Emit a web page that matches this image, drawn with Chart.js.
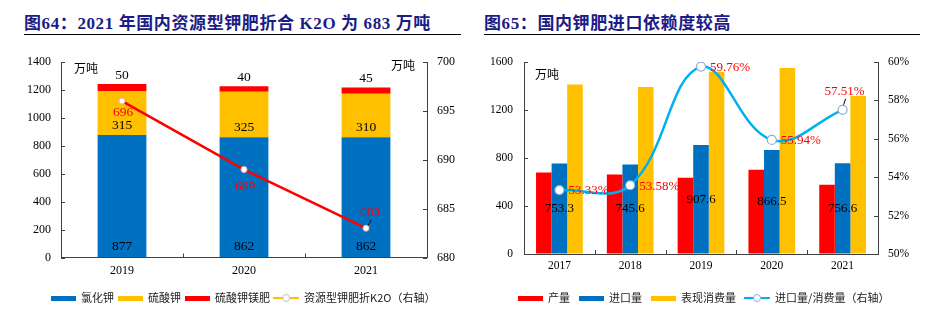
<!DOCTYPE html>
<html>
<head>
<meta charset="utf-8">
<script src="https://cdn.jsdelivr.net/npm/chart.js@4/dist/chart.umd.min.js"></script>
<style>
  html, body { margin: 0; padding: 0; background: #fff; }
  body { width: 937px; height: 325px; position: relative; overflow: hidden; }
  .title {
    position: absolute; top: 9px; height: 25px; line-height: 25px;
    border-bottom: 1.5px solid #000;
    font: bold 17px "Liberation Serif", "Noto Sans CJK SC", serif;
    color: #1c1c86; white-space: nowrap; letter-spacing: 0.6px;
  }
  #t1 { left: 24px; width: 437px; }
  #t2 { left: 484px; width: 436px; }
  canvas { position: absolute; top: 40px; }
  #c1 { left: 0; }
  #c2 { left: 470px; }
</style>
</head>
<body>
<div class="title" id="t1">图64：2021 年国内资源型钾肥折合 K2O 为 683 万吨</div>
<div class="title" id="t2">图65：国内钾肥进口依赖度较高</div>
<canvas id="c1" width="470" height="285"></canvas>
<canvas id="c2" width="467" height="285"></canvas>
<script>
// ---------- 图64 数据 ----------
const years1 = ['2019', '2020', '2021'];
const kclVals = [877, 862, 862];          // 氯化钾
const k2so4Vals = [315, 325, 310];        // 硫酸钾
const kmgVals = [50, 40, 45];             // 硫酸钾镁肥
const k2oVals = [696, 689, 683];          // 资源型钾肥折K2O（右轴）
const ticks1Left = [0, 200, 400, 600, 800, 1000, 1200, 1400];
const ticks1Right = [680, 685, 690, 695, 700];

// ---------- 图65 数据 ----------
const years2 = ['2017', '2018', '2019', '2020', '2021'];
const outputVals = [680, 663, 636, 703, 578];             // 产量
const importVals = [753.3, 745.6, 907.6, 866.5, 756.6];   // 进口量
const consumeVals = [1413, 1392, 1519, 1549, 1316];       // 表现消费量
const ratioVals = [53.33, 53.58, 59.76, 55.94, 57.51];    // 进口量/消费量（右轴）
const ticks2Left = [0, 400, 800, 1200, 1600];
const ticks2Right = [50, 52, 54, 56, 58, 60];

// ---------- 样式 ----------
const C_BLUE = '#0070C0', C_YELLOW = '#FFC000', C_RED = '#FF0000', C_CYAN = '#00B0F0';
const AXIS = '#404040';
const SERIF = '"Liberation Serif", "Times New Roman", serif';
const CJK = '"Noto Sans CJK SC", sans-serif';
// 折线标签相对数据点的纵向偏移
const k2oLabelDy = [11.5, 17, -16];

// 图例色块：柱形为扁矩形，折线为线段加空心圆点
function swatchBar(color) {
  const c = document.createElement('canvas');
  c.width = 25; c.height = 5;
  const g = c.getContext('2d');
  g.fillStyle = color; g.fillRect(0, 0, 25, 5);
  return c;
}
function swatchLine(color, edge) {
  const c = document.createElement('canvas');
  c.width = 26; c.height = 10;
  const g = c.getContext('2d');
  g.strokeStyle = color; g.lineWidth = 2;
  g.beginPath(); g.moveTo(0, 5); g.lineTo(26, 5); g.stroke();
  g.beginPath(); g.arc(13, 5, 3.5, 0, Math.PI * 2);
  g.fillStyle = '#fff'; g.fill();
  g.strokeStyle = edge; g.lineWidth = 1; g.stroke();
  return c;
}

function valueAxis(ticks, position, width, pad, fontSize, fmt) {
  return {
    type: 'linear', position,
    min: ticks[0], max: ticks[ticks.length - 1],
    afterBuildTicks(scale) { scale.ticks = ticks.map(v => ({ value: v })); },
    ticks: { padding: pad, color: '#000', font: { family: SERIF, size: fontSize },
             callback: fmt || (v => v) },
    grid: { drawOnChartArea: false, drawTicks: false },
    border: { color: AXIS, width: 1 },
    afterFit(scale) { scale.width = width; }
  };
}
function catAxis(height, pad, fontSize) {
  return {
    type: 'category', offset: true,
    ticks: { padding: pad, color: '#000', font: { family: SERIF, size: fontSize },
             maxRotation: 0, autoSkip: false },
    grid: { drawOnChartArea: false, drawTicks: false, offset: true },
    border: { color: AXIS, width: 1 },
    afterFit(scale) { scale.height = height; }
  };
}
function legendOpts(swatches, pad) {
  return {
    position: 'bottom', align: 'center',
    labels: {
      usePointStyle: true, pointStyleWidth: 25, boxHeight: 5, padding: pad,
      color: '#222', font: { family: CJK, size: 11 },
      generateLabels(chart) {
        return chart.data.datasets.map((ds, i) => ({
          text: ds.label, pointStyle: swatches[i], fillStyle: '#fff',
          strokeStyle: '#fff', lineWidth: 0, hidden: false, datasetIndex: i, fontColor: '#222'
        }));
      }
    }
  };
}

// 坐标轴向内的小刻度线；横轴刻度位于类别之间
const innerTicks = {
  id: 'innerTicks',
  afterDatasetsDraw(chart) {
    const ctx = chart.ctx, a = chart.chartArea, len = 4;
    ctx.save();
    ctx.strokeStyle = AXIS; ctx.lineWidth = 1;
    ctx.beginPath();
    ['y', 'y1'].forEach(id => {
      const s = chart.scales[id];
      const left = s.position === 'left';
      const x = left ? a.left : a.right;
      s.ticks.forEach((t, i) => {
        const y = Math.round(s.getPixelForTick(i)) + 0.5;
        ctx.moveTo(x, y); ctx.lineTo(left ? x + len : x - len, y);
      });
    });
    const sx = chart.scales.x;
    for (let i = 1; i < sx.ticks.length; i++) {
      const xb = Math.round((sx.getPixelForTick(i - 1) + sx.getPixelForTick(i)) / 2) + 0.5;
      ctx.moveTo(xb, a.bottom); ctx.lineTo(xb, a.bottom - len);
    }
    ctx.stroke();
    ctx.restore();
  }
};

// 图64 数值标签与单位
const labels1 = {
  id: 'labels1',
  afterDatasetsDraw(chart) {
    const ctx = chart.ctx, a = chart.chartArea;
    ctx.save();
    ctx.textAlign = 'center'; ctx.textBaseline = 'middle';
    ctx.font = '13.5px ' + SERIF; ctx.fillStyle = '#000';
    chart.getDatasetMeta(0).data.forEach((b, i) => ctx.fillText(String(kclVals[i]), b.x, b.base - 11));
    chart.getDatasetMeta(1).data.forEach((b, i) => ctx.fillText(String(k2so4Vals[i]), b.x, b.base - 10));
    chart.getDatasetMeta(2).data.forEach((b, i) => ctx.fillText(String(kmgVals[i]), b.x, b.y - 9));
    const pts = chart.getDatasetMeta(3).data;
    ctx.fillStyle = C_RED;
    pts.forEach((p, i) => ctx.fillText(String(k2oVals[i]), p.x + (k2oLabelDy[i] < 0 ? 4 : 1), p.y + k2oLabelDy[i]));
    const last = pts[pts.length - 1];
    ctx.strokeStyle = '#000'; ctx.lineWidth = 1;
    ctx.beginPath(); ctx.moveTo(last.x + 2, last.y - 3); ctx.lineTo(last.x + 5, last.y - 8); ctx.stroke();
    ctx.font = '12px ' + CJK; ctx.fillStyle = '#000';
    ctx.fillText('万吨', a.left + 25, a.top + 6);
    ctx.fillText('万吨', a.right - 24, a.top + 3);
    ctx.restore();
  }
};

// 图65 数值标签与单位
const labels2 = {
  id: 'labels2',
  afterDatasetsDraw(chart) {
    const ctx = chart.ctx, a = chart.chartArea;
    ctx.save();
    ctx.textBaseline = 'middle';
    ctx.textAlign = 'center';
    ctx.font = '13px ' + SERIF; ctx.fillStyle = '#000';
    chart.getDatasetMeta(1).data.forEach((b, i) =>
      ctx.fillText(importVals[i].toFixed(1), b.x, (b.y + b.base) / 2));
    const pts = chart.getDatasetMeta(3).data;
    ctx.fillStyle = C_RED;
    pts.forEach((p, i) => {
      const txt = ratioVals[i].toFixed(2) + '%';
      if (i === pts.length - 1) {
        ctx.textAlign = 'center';
        ctx.fillText(txt, p.x + 2, p.y - 18);
        ctx.strokeStyle = '#000'; ctx.lineWidth = 1;
        ctx.beginPath(); ctx.moveTo(p.x + 1, p.y - 5); ctx.lineTo(p.x + 3, p.y - 11); ctx.stroke();
      } else {
        ctx.textAlign = 'left';
        ctx.fillText(txt, p.x + 9, p.y + 1);
      }
    });
    ctx.textAlign = 'center';
    ctx.font = '12px ' + CJK; ctx.fillStyle = '#000';
    ctx.fillText('万吨', a.left + 23, a.top + 12);
    ctx.restore();
  }
};

new Chart(document.getElementById('c1'), {
  data: {
    labels: years1,
    datasets: [
      { type: 'bar', label: '氯化钾', data: kclVals, backgroundColor: C_BLUE, yAxisID: 'y', order: 1,
        barPercentage: 0.4, categoryPercentage: 1 },
      { type: 'bar', label: '硫酸钾', data: k2so4Vals, backgroundColor: C_YELLOW, yAxisID: 'y', order: 1,
        barPercentage: 0.4, categoryPercentage: 1 },
      { type: 'bar', label: '硫酸钾镁肥', data: kmgVals, backgroundColor: C_RED, yAxisID: 'y', order: 1,
        barPercentage: 0.4, categoryPercentage: 1 },
      { type: 'line', label: '资源型钾肥折K2O（右轴）', data: k2oVals, yAxisID: 'y1', order: 0,
        borderColor: C_RED, borderWidth: 2.5, tension: 0,
        pointRadius: 3, pointBackgroundColor: '#fff', pointBorderColor: '#F4B0B0', pointBorderWidth: 1 }
    ]
  },
  options: {
    responsive: false, animation: false, events: [],
    layout: { padding: { top: 22, bottom: 11.5, left: 16, right: 0 } },
    scales: {
      x: Object.assign(catAxis(31.5, 6, 12), { stacked: true }),
      y: Object.assign(valueAxis(ticks1Left, 'left', 45, 10, 12), { stacked: true }),
      y1: valueAxis(ticks1Right, 'right', 43, 10, 12)
    },
    plugins: {
      legend: legendOpts([swatchBar(C_BLUE), swatchBar(C_YELLOW), swatchBar(C_RED),
                          swatchLine(C_YELLOW, '#BFBFBF')], 3.5),
      tooltip: { enabled: false }
    }
  },
  plugins: [innerTicks, labels1]
});

new Chart(document.getElementById('c2'), {
  data: {
    labels: years2,
    datasets: [
      { type: 'bar', label: '产量', data: outputVals, backgroundColor: C_RED, yAxisID: 'y', order: 1,
        barPercentage: 1, categoryPercentage: 0.66 },
      { type: 'bar', label: '进口量', data: importVals, backgroundColor: C_BLUE, yAxisID: 'y', order: 1,
        barPercentage: 1, categoryPercentage: 0.66 },
      { type: 'bar', label: '表现消费量', data: consumeVals, backgroundColor: C_YELLOW, yAxisID: 'y', order: 1,
        barPercentage: 1, categoryPercentage: 0.66 },
      { type: 'line', label: '进口量/消费量（右轴）', data: ratioVals, yAxisID: 'y1', order: 0,
        borderColor: C_CYAN, borderWidth: 2.5, tension: 0.4,
        pointRadius: 4.5, pointBackgroundColor: '#fff', pointBorderColor: '#8FAADC', pointBorderWidth: 1.2 }
    ]
  },
  options: {
    responsive: false, animation: false, events: [],
    layout: { padding: { top: 22, bottom: 11.5, left: 0, right: 0 } },
    scales: {
      x: catAxis(30, 5, 11.5),
      y: valueAxis(ticks2Left, 'left', 54, 11, 11.5),
      y1: valueAxis(ticks2Right, 'right', 59, 10, 11.5, v => v + '%')
    },
    plugins: {
      legend: legendOpts([swatchBar(C_RED), swatchBar(C_BLUE), swatchBar(C_YELLOW),
                          swatchLine(C_CYAN, '#8FAADC')], 8.5),
      tooltip: { enabled: false }
    }
  },
  plugins: [innerTicks, labels2]
});
</script>
</body>
</html>
